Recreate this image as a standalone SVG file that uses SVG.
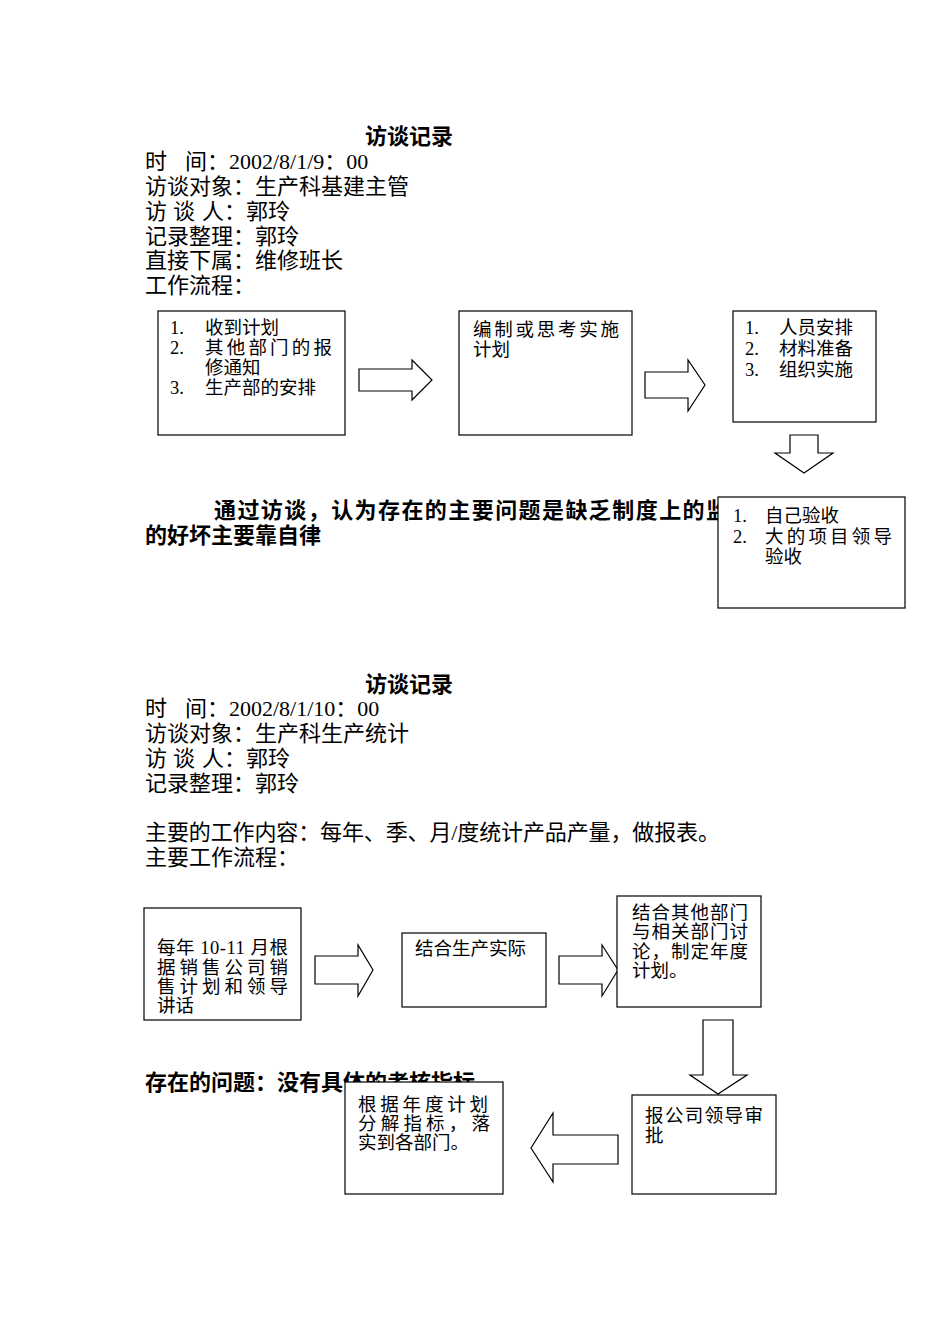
<svg xmlns="http://www.w3.org/2000/svg" width="950" height="1344" viewBox="0 0 950 1344">
<style>
.t{font-family:"Liberation Serif","Noto Sans CJK SC",serif;font-size:22px;fill:#000}
.b{font-family:"Liberation Serif","Noto Sans CJK SC",serif;font-size:22px;font-weight:bold;fill:#000}
.s{font-family:"Liberation Serif","Noto Sans CJK SC",serif;font-size:18.5px;fill:#000}
.box{fill:#fff;stroke:#000;stroke-width:1.2}
.arr{fill:#fff;stroke:#000;stroke-width:1.2;stroke-linejoin:miter}
</style>
<rect width="950" height="1344" fill="#fff"/>

<g id="header1">
<text class="b" x="365" y="144">访谈记录</text>
<text class="t" y="169"><tspan x="145">时</tspan><tspan x="185">间：2002/8/1/9：00</tspan></text>
<text class="t" x="145" y="194">访谈对象：生产科基建主管</text>
<text class="t" y="219"><tspan x="145">访</tspan><tspan x="173">谈</tspan><tspan x="202">人：郭玲</tspan></text>
<text class="t" x="145" y="244">记录整理：郭玲</text>
<text class="t" x="145" y="268">直接下属：维修班长</text>
<text class="t" x="145" y="293">工作流程：</text>
</g>

<g id="conclusion1">
<text class="b" x="214" y="518" textLength="514" lengthAdjust="spacing">通过访谈，认为存在的主要问题是缺乏制度上的监</text>
<text class="b" x="145" y="543">的好坏主要靠自律</text>
</g>

<g id="connectors">
<polygon class="arr" points="359,369 412,369 412,360 432,380 412,400 412,391 359,391"/>
<polygon class="arr" points="645,372 688,372 688,360 705,385 688,411 688,398 645,398"/>
<polygon class="arr" points="790,435 818,435 818,453 833,453 804,473 775,453 790,453"/>
<polygon class="arr" points="315,956 358,956 358,945 373,970 358,996 358,984 315,984"/>
<polygon class="arr" points="559,956 602,956 602,945 618,970 602,996 602,984 559,984"/>
<polygon class="arr" points="703,1020 733,1020 733,1075 747,1075 718,1094 690,1075 703,1075"/>
<polygon class="arr" points="618,1135 553,1135 553,1113 531,1148 553,1182 553,1164 618,1164"/>
</g>

<g id="node-receive">
<rect class="box" x="158" y="311" width="187" height="124"/>
<text class="s" x="170" y="334">1.</text><text class="s" x="205" y="334">收到计划</text>
<text class="s" x="170" y="354">2.</text><text class="s" x="205" y="354" textLength="127" lengthAdjust="spacing">其他部门的报</text>
<text class="s" x="205" y="374">修通知</text>
<text class="s" x="170" y="394">3.</text><text class="s" x="205" y="394">生产部的安排</text>
</g>

<g id="node-plan">
<rect class="box" x="459" y="311" width="173" height="124"/>
<text class="s" x="473" y="336" textLength="146" lengthAdjust="spacing">编制或思考实施</text>
<text class="s" x="473" y="356">计划</text>
</g>

<g id="node-implement">
<rect class="box" x="733" y="311" width="143" height="111"/>
<text class="s" x="745" y="334">1.</text><text class="s" x="779" y="334">人员安排</text>
<text class="s" x="745" y="355">2.</text><text class="s" x="779" y="355">材料准备</text>
<text class="s" x="745" y="376">3.</text><text class="s" x="779" y="376">组织实施</text>
</g>

<g id="node-accept">
<rect class="box" x="718" y="497" width="187" height="111"/>
<text class="s" x="733" y="522">1.</text><text class="s" x="765" y="522">自己验收</text>
<text class="s" x="733" y="543">2.</text><text class="s" x="765" y="543" textLength="127" lengthAdjust="spacing">大的项目领导</text>
<text class="s" x="765" y="563">验收</text>
</g>

<g id="header2">
<text class="b" x="365" y="692">访谈记录</text>
<text class="t" y="716"><tspan x="145">时</tspan><tspan x="185">间：2002/8/1/10：00</tspan></text>
<text class="t" x="145" y="741">访谈对象：生产科生产统计</text>
<text class="t" y="766"><tspan x="145">访</tspan><tspan x="173">谈</tspan><tspan x="202">人：郭玲</tspan></text>
<text class="t" x="145" y="791">记录整理：郭玲</text>
<text class="t" x="145" y="840" textLength="575" lengthAdjust="spacing">主要的工作内容：每年、季、月/度统计产品产量，做报表。</text>
<text class="t" x="145" y="865">主要工作流程：</text>
</g>

<g id="problem2">
<text class="b" x="145" y="1090">存在的问题：没有具体的考核指标</text>
</g>

<g id="node-sales">
<rect class="box" x="144" y="908" width="157" height="112"/>
<text class="s" x="157" y="954" textLength="131" lengthAdjust="spacing">每年 10-11 月根</text>
<text class="s" x="157" y="974" textLength="131" lengthAdjust="spacing">据销售公司销</text>
<text class="s" x="157" y="993" textLength="131" lengthAdjust="spacing">售计划和领导</text>
<text class="s" x="157" y="1012">讲话</text>
</g>

<g id="node-actual">
<rect class="box" x="402" y="933" width="144" height="74"/>
<text class="s" x="415" y="955">结合生产实际</text>
</g>

<g id="node-discuss">
<rect class="box" x="617" y="896" width="144" height="111"/>
<text class="s" x="632" y="919" textLength="116" lengthAdjust="spacing">结合其他部门</text>
<text class="s" x="632" y="938" textLength="116" lengthAdjust="spacing">与相关部门讨</text>
<text class="s" x="632" y="958" textLength="116" lengthAdjust="spacing">论，制定年度</text>
<text class="s" x="632" y="977">计划。</text>
</g>

<g id="node-approve">
<rect class="box" x="632" y="1095" width="144" height="99"/>
<text class="s" x="645" y="1122" textLength="118" lengthAdjust="spacing">报公司领导审</text>
<text class="s" x="645" y="1142">批</text>
</g>

<g id="node-decompose">
<rect class="box" x="345" y="1082" width="158" height="112"/>
<text class="s" x="358" y="1111" textLength="130" lengthAdjust="spacing">根据年度计划</text>
<text class="s" x="358" y="1130" textLength="132" lengthAdjust="spacing">分解指标，落</text>
<text class="s" x="358" y="1149">实到各部门。</text>
</g>
</svg>
